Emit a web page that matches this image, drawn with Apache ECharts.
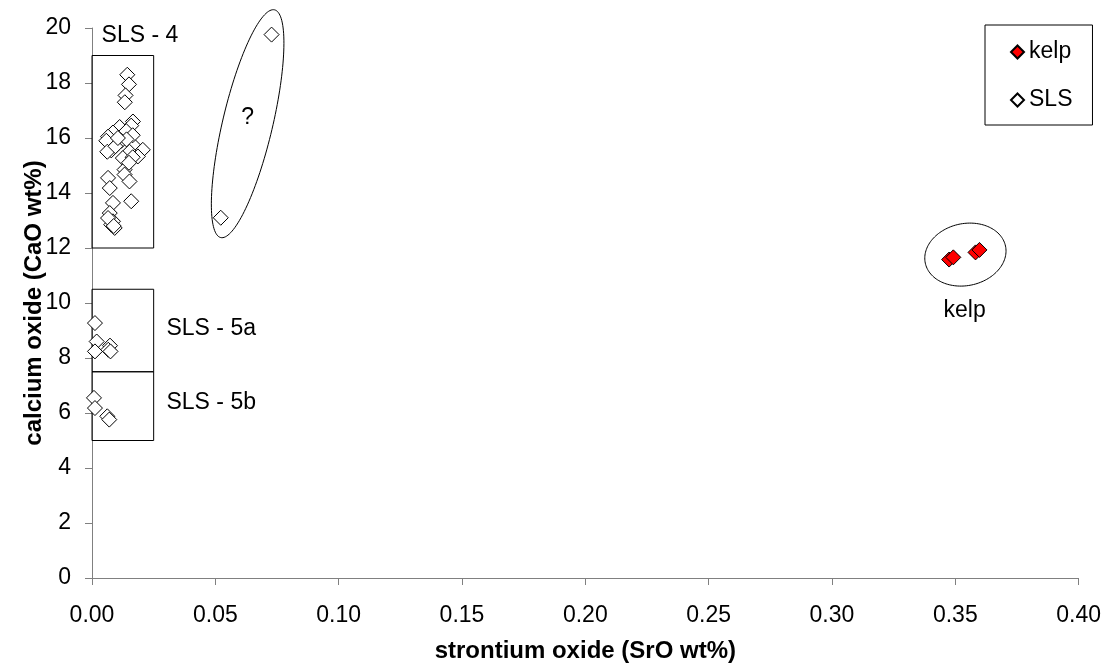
<!DOCTYPE html>
<html>
<head>
<meta charset="utf-8">
<script src="https://cdn.jsdelivr.net/npm/echarts@6/dist/echarts.min.js"></script>
<style>
html,body{margin:0;padding:0;background:#fff;}
#chart{width:1104px;height:669px;}
</style>
</head>
<body>
<div id="chart"></div>
<script>
// ---- data ----
const xLabel = 'strontium oxide (SrO wt%)';
const yLabel = 'calcium oxide (CaO wt%)';
const seriesNames = ['kelp', 'SLS'];

const kelp = [[0.3475, 11.58], [0.3492, 11.66], [0.3582, 11.84], [0.3598, 11.93]];

const sls4 = [
  [0.0143, 18.3], [0.0150, 17.95], [0.0136, 17.55], [0.0133, 17.3],
  [0.0166, 16.6], [0.0159, 16.45], [0.0112, 16.4], [0.0085, 16.2], [0.0065, 16.05],
  [0.0139, 16.25], [0.0119, 15.9], [0.0078, 15.55], [0.0058, 15.9], [0.0166, 15.75],
  [0.0206, 15.57], [0.0152, 15.5], [0.0186, 15.33], [0.0125, 15.27], [0.0132, 14.85],
  [0.0062, 15.5], [0.0095, 15.7], [0.0165, 16.1], [0.0140, 15.95], [0.0105, 16.0],
  [0.0165, 15.3], [0.0150, 15.1],
  [0.0065, 14.55], [0.0132, 14.67], [0.0152, 14.42], [0.0072, 14.18], [0.0159, 13.7],
  [0.0085, 13.64], [0.0072, 13.27], [0.0085, 12.97], [0.0092, 12.73], [0.0078, 12.85],
  [0.0065, 13.09], [0.0088, 12.8]
];
const slsQ = [[0.0728, 19.76], [0.0522, 13.1]];
const sls5a = [[0.0012, 9.27], [0.0019, 8.6], [0.0012, 8.24], [0.0073, 8.45], [0.0066, 8.3], [0.0075, 8.24]];
const sls5b = [[0.0008, 6.55], [0.0012, 6.18], [0.0062, 5.88], [0.0070, 5.76]];

// group boxes: [x0, y0, x1, y1]
const boxes = [[0, 12, 0.025, 19], [0, 7.5, 0.025, 10.5], [0, 5, 0.025, 7.5]];
// annotation texts: [text, x, y]
const notes = [['SLS - 4', 0.0039, 19.73], ['SLS - 5a', 0.0302, 9.06], ['SLS - 5b', 0.0302, 6.36], ['?', 0.0631, 16.75], ['kelp', 0.3538, 9.72]];
// ellipse centres: [cx, cy]
const ellipseCenters = [[0.0631, 16.52], [0.3541, 11.76]];

const xMin = 0, xMax = 0.4, xStep = 0.05;
const yMin = 0, yMax = 20, yStep = 2;

const FONT = '"Liberation Sans", Arial, sans-serif';
const axisColor = '#808080';
const FS = 23;

const chart = echarts.init(document.getElementById('chart'), null, {renderer: 'canvas'});

const option = {
  animation: false,
  backgroundColor: '#fff',
  textStyle: {fontFamily: FONT, color: '#000'},
  grid: {left: 92, right: 23, top: 28, bottom: 91, containLabel: false},
  legend: {
    orient: 'vertical',
    left: 985, top: 25,
    padding: [15, 20, 13, 25],
    itemGap: 24,
    itemWidth: 13, itemHeight: 13,
    borderColor: '#000', borderWidth: 1,
    textStyle: {fontFamily: FONT, fontSize: FS, color: '#000', lineHeight: 24},
    data: seriesNames.map(n => ({name: n, icon: 'diamond'}))
  },
  xAxis: {
    type: 'value', min: xMin, max: xMax, interval: xStep,
    name: xLabel, nameLocation: 'middle', nameGap: 61, nameMoveOverlap: false,
    nameTextStyle: {fontFamily: FONT, fontSize: 24, fontWeight: 'bold', color: '#000'},
    axisLine: {show: true, onZero: false, lineStyle: {color: axisColor, width: 1}},
    axisTick: {show: true, inside: false, length: 7, lineStyle: {color: axisColor}},
    axisLabel: {fontFamily: FONT, fontSize: FS, color: '#000', margin: 26, formatter: v => v.toFixed(2)},
    splitLine: {show: false}
  },
  yAxis: {
    type: 'value', min: yMin, max: yMax, interval: yStep,
    name: yLabel, nameLocation: 'middle', nameGap: 46, nameMoveOverlap: false,
    nameTextStyle: {fontFamily: FONT, fontSize: 24, fontWeight: 'bold', color: '#000'},
    axisLine: {show: true, onZero: false, lineStyle: {color: axisColor, width: 1}},
    axisTick: {show: true, inside: false, length: 7, lineStyle: {color: axisColor}},
    axisLabel: {fontFamily: FONT, fontSize: FS, color: '#000', margin: 21},
    splitLine: {show: false}
  },
  series: [
    {
      name: 'kelp', type: 'scatter', symbol: 'diamond', symbolSize: 15, z: 5,
      itemStyle: {color: '#ff0000', borderColor: '#000', borderWidth: 1, opacity: 1},
      data: kelp
    },
    {
      name: 'SLS', type: 'scatter', symbol: 'diamond', symbolSize: 15, z: 4,
      itemStyle: {color: '#ffffff', borderColor: '#000', borderWidth: 1, opacity: 1},
      data: sls4.concat(slsQ, sls5a, sls5b),
      markArea: {
        silent: true,
        itemStyle: {color: 'rgba(0,0,0,0)', borderColor: '#000', borderWidth: 1},
        data: boxes.map(b => [{coord: [b[0], b[3]]}, {coord: [b[2], b[1]]}])
      }
    }
  ]
};
chart.setOption(option);

function ellipsePoints(cx, cy, rx, ry, rot) {
  const pts = [];
  const c = Math.cos(rot), s = Math.sin(rot);
  for (let i = 0; i < 144; i++) {
    const t = i / 144 * Math.PI * 2;
    const x = rx * Math.cos(t), y = ry * Math.sin(t);
    pts.push([cx + x * c - y * s, cy + x * s + y * c]);
  }
  return pts;
}

const px = (x, y) => chart.convertToPixel({gridIndex: 0}, [x, y]);
const ellipseShapes = [[25, 117, 13.3 * Math.PI / 180], [41, 31, -12 * Math.PI / 180]];
const graphics = [];
ellipseCenters.forEach((c, i) => {
  const p = px(c[0], c[1]);
  const e = ellipseShapes[i];
  graphics.push({
    type: 'polygon', silent: true, z: 3,
    shape: {points: ellipsePoints(p[0], p[1], e[0], e[1], e[2])},
    style: {fill: null, stroke: '#000', lineWidth: 1}
  });
});
notes.forEach(n => {
  const p = px(n[1], n[2]);
  const centered = (n[0] === '?' || n[0] === 'kelp');
  graphics.push({
    type: 'text', silent: true, z: 6, x: p[0], y: p[1],
    style: {text: n[0], font: FS + 'px ' + FONT, fill: '#000',
      textAlign: centered ? 'center' : 'left', textVerticalAlign: 'middle'}
  });
});
chart.setOption({graphic: graphics});
</script>
</body>
</html>
